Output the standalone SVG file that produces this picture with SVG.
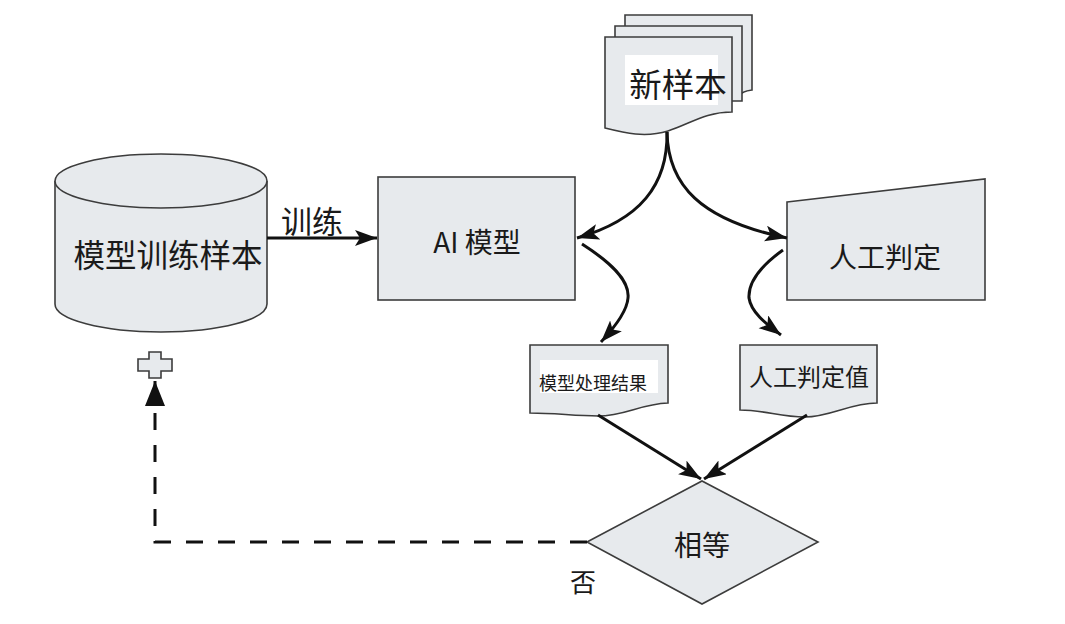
<svg xmlns="http://www.w3.org/2000/svg" width="1065" height="624" viewBox="0 0 1065 624">
<style>
.shape{fill:#e7eaed;stroke:#3c3c3c;stroke-width:1.6}
.lbl{font-family:"Noto Sans CJK SC","Noto Sans",sans-serif;fill:#1a1a1a;text-anchor:middle;dominant-baseline:central}
.conn{fill:none;stroke:#111;stroke-width:3}
.bg{fill:#ffffff}
</style>
<defs>
<marker id="ah" markerUnits="userSpaceOnUse" markerWidth="24" markerHeight="18" refX="22" refY="8" orient="auto">
<path d="M0,0 L22,8 L0,16 L5,8 z" fill="#111"/>
</marker>
<marker id="ahd" markerUnits="userSpaceOnUse" markerWidth="28" markerHeight="22" refX="25" refY="10" orient="auto">
<path d="M0,0 L25,10 L0,20 z" fill="#111"/>
</marker>
</defs>
<rect width="1065" height="624" fill="#ffffff"/>

<g id="node-train-samples">
<path class="shape" d="M55,181 V304 A106,28 0 0 0 267,304 V181"/>
<ellipse class="shape" cx="161" cy="181" rx="106" ry="27"/>
<text class="lbl" x="168" y="253" font-size="31.5">模型训练样本</text>
</g>

<g id="node-plus">
<path class="shape" d="M149,352 H161 V359 H172 V371 H161 V378 H149 V371 H138 V359 H149 Z"/>
</g>

<g id="node-ai-model">
<rect class="shape" x="378" y="177" width="197" height="123"/>
<text class="lbl" x="477" y="241" font-size="28">AI 模型</text>
</g>

<g id="node-new-samples">
<path class="shape" d="M625,15 H752 V90 C735,92 740,100 740,100 L625,100 Z"/>
<path class="shape" d="M615,26 H742 V101 L615,101 Z"/>
<path class="shape" d="M605,37 H732 V112 C705,112 690,124 668,131 C645,138 625,133 605,128 Z"/>
<rect class="bg" x="625" y="55" width="93" height="50"/>
<text class="lbl" x="678" y="82" font-size="32.5">新样本</text>
</g>

<g id="node-manual-judge">
<path class="shape" d="M787,202 L985,179 V300 H787 Z"/>
<text class="lbl" x="885" y="256" font-size="28">人工判定</text>
</g>

<g id="node-model-result">
<path class="shape" d="M530,345 H668 V403 C640,404 625,416 598,416 C575,416 555,413 530,413 Z"/>
<rect class="bg" x="540" y="360" width="118" height="33"/>
<text class="lbl" x="593" y="382" font-size="18">模型处理结果</text>
</g>

<g id="node-manual-value">
<path class="shape" d="M740,345 H877 V403 C850,403 830,417 805,417 C780,417 765,410 740,410 Z"/>
<text class="lbl" x="809" y="375" font-size="24">人工判定值</text>
</g>

<g id="node-equal">
<path class="shape" d="M587,542 L702,481 L818,542 L702,604 Z"/>
<text class="lbl" x="702" y="544" font-size="28">相等</text>
</g>

<g id="connectors">
<path class="conn" d="M267,238 H377" marker-end="url(#ah)"/>
<text class="lbl" x="312" y="219" font-size="31">训练</text>
<path class="conn" d="M667,132 C668,185 640,220 577,238" marker-end="url(#ah)"/>
<path class="conn" d="M667,132 C668,185 700,220 787,238" marker-end="url(#ah)"/>
<path class="conn" d="M582,244 C610,262 630,280 628,298 C627,312 614,328 601,342" marker-end="url(#ah)"/>
<path class="conn" d="M783,250 C762,265 748,282 749,298 C751,312 765,323 781,335" marker-end="url(#ah)"/>
<path class="conn" d="M598,415 L701,479" marker-end="url(#ah)"/>
<path class="conn" d="M807,415 L704,479" marker-end="url(#ah)"/>
<path class="conn" d="M587,542 H155 V381" stroke-width="4" stroke-dasharray="17 15" marker-end="url(#ahd)"/>
<text class="lbl" x="583" y="580" font-size="26">否</text>
</g>
</svg>
